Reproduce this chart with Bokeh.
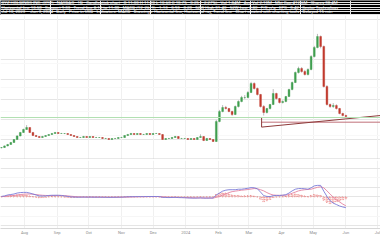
from datetime import datetime
import pandas as pd
from bokeh.plotting import figure
from bokeh.layouts import column
from bokeh.models import (Range1d, FixedTicker, Grid, Span, ColumnDataSource,
                          DatetimeTickFormatter)
from bokeh.core.properties import value
from bokeh.embed import file_html
from bokeh.resources import INLINE

# ---------------- data ----------------
dates = pd.date_range("2023-07-10", periods=110, freq="3D")

opens = [
    2.90, 3.00, 3.40, 3.75, 4.25, 5.00, 5.90, 6.75, 7.50, 8.00,
    6.75, 6.00, 5.75, 5.50, 5.75, 6.00, 6.25, 6.50, 6.75, 6.50,
    6.50, 6.50, 6.25, 6.00, 5.75, 5.50, 5.50, 5.75, 5.50, 5.75,
    5.50, 5.50, 5.50, 5.25, 5.25, 5.00, 5.25, 5.25, 5.50, 5.50,
    6.00, 6.25, 6.50, 6.25, 6.50, 6.25, 6.25, 6.50, 6.25, 6.50,
    6.50, 6.25, 5.00, 5.25, 5.25, 5.50, 5.75, 5.25, 5.25, 5.25,
    5.00, 5.25, 5.00, 5.50, 5.75, 4.75, 5.25, 5.00, 4.50, 9.50,
    12.00, 13.00, 12.75, 12.00, 11.25, 13.25, 14.50, 15.50, 15.50, 16.75,
    19.00, 17.75, 16.25, 13.25, 11.75, 12.75, 13.75, 16.50, 15.25, 14.25,
    14.50, 15.75, 17.50, 19.25, 21.75, 22.75, 22.00, 21.25, 22.50, 25.75,
    28.00, 30.75, 28.25, 18.25, 13.75, 13.25, 13.50, 12.75, 11.50, 11.00,
]
closes = [
    3.00, 3.40, 3.75, 4.25, 5.00, 5.90, 6.75, 7.50, 8.00, 6.75,
    6.00, 5.75, 5.50, 5.75, 6.00, 6.25, 6.50, 6.75, 6.50, 6.50,
    6.50, 6.25, 6.00, 5.75, 5.50, 5.50, 5.75, 5.50, 5.75, 5.50,
    5.50, 5.50, 5.25, 5.25, 5.00, 5.25, 5.25, 5.50, 5.50, 6.00,
    6.25, 6.50, 6.25, 6.50, 6.25, 6.25, 6.50, 6.25, 6.50, 6.50,
    6.25, 5.00, 5.25, 5.25, 5.50, 5.75, 5.25, 5.25, 5.25, 5.00,
    5.25, 5.00, 5.50, 5.75, 4.75, 5.25, 5.00, 4.50, 9.50, 12.00,
    13.00, 12.75, 12.00, 11.25, 13.25, 14.50, 15.50, 15.50, 16.75, 19.00,
    17.75, 16.25, 13.25, 11.75, 12.75, 13.75, 16.50, 15.25, 14.25, 14.50,
    15.75, 17.50, 19.25, 21.75, 22.75, 22.00, 21.25, 22.50, 25.75, 28.00,
    30.75, 28.25, 18.25, 13.75, 13.25, 13.50, 12.75, 11.50, 11.00, 10.75,
]
highs = [
    3.10, 3.50, 3.90, 4.40, 5.10, 6.05, 6.90, 7.70, 8.60, 8.10,
    6.90, 6.15, 5.85, 5.90, 6.10, 6.35, 6.65, 6.90, 6.85, 6.65,
    6.60, 6.60, 6.35, 6.10, 5.85, 5.65, 5.90, 5.85, 5.85, 5.85,
    5.65, 5.60, 5.60, 5.40, 5.35, 5.35, 5.40, 5.60, 5.65, 6.10,
    6.40, 6.65, 6.60, 6.60, 6.60, 6.40, 6.60, 6.60, 6.60, 6.65,
    6.60, 6.35, 5.35, 5.40, 5.65, 5.90, 5.85, 5.40, 5.40, 5.35,
    5.35, 5.35, 5.60, 6.30, 5.85, 5.40, 5.35, 5.10, 9.90, 12.40,
    13.60, 13.40, 12.90, 12.20, 13.50, 14.80, 15.90, 16.10, 17.10, 19.40,
    19.30, 18.00, 16.40, 13.60, 12.90, 13.90, 17.60, 16.70, 15.40, 14.80,
    15.90, 17.70, 19.50, 22.00, 23.20, 23.10, 22.40, 22.80, 26.10, 28.40,
    31.40, 31.00, 28.50, 18.60, 14.00, 14.10, 13.80, 12.90, 11.70, 11.20,
]
lows = [
    2.80, 2.90, 3.30, 3.70, 4.15, 4.90, 5.80, 6.65, 7.40, 6.60,
    5.85, 5.65, 5.40, 5.40, 5.65, 5.90, 6.15, 6.40, 6.40, 6.40,
    6.35, 6.15, 5.90, 5.65, 5.40, 5.40, 5.40, 5.40, 5.40, 5.40,
    5.40, 5.40, 5.15, 5.15, 4.90, 4.90, 5.10, 5.15, 5.40, 5.40,
    5.90, 6.15, 6.15, 6.15, 6.15, 6.15, 6.15, 6.15, 6.15, 6.40,
    6.15, 4.90, 4.90, 5.10, 5.15, 5.40, 5.15, 5.15, 5.15, 4.90,
    4.90, 4.90, 4.90, 5.40, 4.60, 4.65, 4.90, 4.40, 4.40, 9.30,
    11.80, 12.50, 11.80, 10.90, 11.10, 13.00, 14.30, 15.10, 15.30, 16.60,
    17.50, 16.00, 13.00, 11.00, 11.50, 12.50, 13.60, 15.00, 14.00, 14.00,
    14.30, 15.60, 17.30, 19.10, 21.50, 21.70, 21.00, 21.00, 22.30, 25.50,
    27.80, 27.80, 18.00, 13.50, 12.90, 12.90, 12.50, 11.30, 10.80, 10.60,
]
macd = [
    0.05, 0.10, 0.20, 0.25, 0.30, 0.40, 0.45, 0.47, 0.47, 0.40,
    0.30, 0.20, 0.10, 0.10, 0.10, 0.15, 0.17, 0.17, 0.17, 0.15,
    0.10, 0.05, 0.00, -0.02, -0.03, -0.03, -0.02, -0.03, -0.02, -0.03,
    -0.03, -0.03, -0.04, -0.04, -0.05, -0.04, -0.04, -0.03, -0.03, -0.01,
    0.01, 0.02, 0.02, 0.03, 0.03, 0.03, 0.04, 0.04, 0.04, 0.04,
    0.03, -0.05, -0.06, -0.07, -0.06, -0.05, -0.07, -0.08, -0.09, -0.11,
    -0.12, -0.13, -0.12, -0.10, -0.13, -0.13, -0.12, -0.12, 0.20, 0.40,
    0.60, 0.70, 0.75, 0.75, 0.75, 0.80, 0.80, 0.85, 0.90, 0.97,
    0.95, 0.85, 0.50, 0.13, 0.05, 0.03, 0.13, 0.15, 0.15, 0.18,
    0.23, 0.40, 0.63, 0.80, 0.87, 0.87, 0.85, 0.80, 0.95, 1.15,
    1.20, 1.20, 0.60, 0.05, -0.40, -0.65, -0.80, -0.95, -1.05, -1.13,
]
signal = [
    0.02, 0.05, 0.10, 0.12, 0.15, 0.20, 0.25, 0.28, 0.30, 0.30,
    0.28, 0.24, 0.20, 0.17, 0.15, 0.14, 0.14, 0.15, 0.15, 0.15,
    0.13, 0.10, 0.07, 0.04, 0.01, -0.01, -0.02, -0.02, -0.02, -0.02,
    -0.03, -0.03, -0.03, -0.04, -0.04, -0.04, -0.04, -0.04, -0.03, -0.03,
    -0.02, -0.01, 0.00, 0.01, 0.02, 0.02, 0.03, 0.03, 0.03, 0.04,
    0.04, 0.01, -0.01, -0.03, -0.04, -0.04, -0.05, -0.06, -0.07, -0.08,
    -0.09, -0.10, -0.11, -0.11, -0.11, -0.12, -0.12, -0.12, -0.05, 0.05,
    0.20, 0.30, 0.45, 0.55, 0.60, 0.65, 0.70, 0.73, 0.77, 0.82,
    0.87, 0.85, 0.75, 0.63, 0.45, 0.30, 0.20, 0.17, 0.16, 0.16,
    0.18, 0.25, 0.38, 0.50, 0.63, 0.70, 0.75, 0.78, 0.80, 0.90,
    1.00, 1.05, 0.95, 0.63, 0.30, -0.03, -0.30, -0.53, -0.75, -0.93,
]

hline_level = 10.50            # light green horizontal line
support_start = "2024-03-13"   # dark red horizontal / trend line start
support_level = 9.33
trend_start = 8.10
trend_end = 11.00
trend_top = 10.50

tick_dates = ["2023-08-01", "2023-09-01", "2023-10-01", "2023-11-01", "2023-12-01",
              "2024-01-01", "2024-02-01", "2024-03-01", "2024-04-01", "2024-05-01",
              "2024-06-01", "2024-07-01"]
tick_labels = ["Aug", "Sep", "Oct", "Nov", "Dec", "2024", "Feb", "Mar", "Apr", "May",
               "Jun", "Jul"]

header_lines = [
    "XYZ HOLDINGS INC. (XYZ) · NASDAQ · 1D · Candlestick chart · O 11.00  H 11.20  L 10.60  C 10.75  −0.25 (−2.27%) · Vol 1.84M · Avg Vol 2.10M · Mkt Cap 412.6M · Shares 38.4M",
    "Horizontal line 10.50 · Support 9.33 · Trend line 8.10 to 11.00 · MACD (12, 26, 9) −1.13 −0.93 −0.20 · 52W High 31.40 · 52W Low 2.80 · P/E n/a · EPS −0.42 · Sector Technology",
    "Jul 10, 2023 – Jun 3, 2024 · Daily · Price in USD · Indicators: MACD · Drawings: Horizontal line, Horizontal ray, Trend line · Chart created with charting tools · Delayed 15 min",
]
header_rows = [2, 1, 0]

# ---------------- derived ----------------
inc = [c >= o for o, c in zip(opens, closes)]
col = ["#3f9f4f" if u else "#c23a2e" for u in inc]
src = ColumnDataSource(dict(date=dates, open=opens, close=closes, high=highs, low=lows,
                            top=[max(o, c) for o, c in zip(opens, closes)],
                            bot=[min(o, c) for o, c in zip(opens, closes)],
                            color=col))
hist = [mv - sv for mv, sv in zip(macd, signal)]
msrc = ColumnDataSource(dict(date=dates, macd=macd, signal=signal, hist=hist))

x_range = Range1d(datetime(2023, 7, 9, 5), datetime(2024, 7, 3, 20))
tick_ms = [pd.Timestamp(d).value // 10**6 for d in tick_dates]
xticker = FixedTicker(ticks=tick_ms)
FONT = "Roboto"
W = 380

# ---------------- header ----------------
hdr = figure(width=W, height=15, output_backend="svg", toolbar_location=None,
             x_axis_location=None, y_axis_location=None, min_border=0,
             x_range=Range1d(0, W), y_range=Range1d(-0.3, 2.95),
             background_fill_color="black", border_fill_color="black", outline_line_color=None)
hdr.text(x=[1, 1, 1], y=header_rows, text=header_lines, text_color="white",
         text_font=value(FONT), text_font_size="4.4px", text_baseline="bottom")

# ---------------- price panel ----------------
p = figure(width=W, height=144, output_backend="svg", toolbar_location=None,
           x_axis_location=None, y_axis_location=None, min_border=0,
           x_range=x_range, y_range=Range1d(0, 36), outline_line_color=None,
           background_fill_color="white", border_fill_color="white")
p.add_layout(Grid(dimension=0, ticker=xticker, grid_line_color="#f0f0f0", grid_line_width=1))
p.add_layout(Grid(dimension=1, ticker=FixedTicker(ticks=[6, 12, 18, 24, 30]),
                  grid_line_color="#f8f8f8", grid_line_width=1))
p.add_layout(Span(location=hline_level, dimension="width", line_color="#b2e0b2", line_width=1))
ss = pd.Timestamp(support_start)
p.segment(x0=[ss], y0=[support_level], x1=[x_range.end], y1=[support_level],
          line_color="#c07078", line_width=1)
p.line(x=[ss, ss, x_range.end], y=[trend_top, trend_start, trend_end],
       line_color="#8e3a3a", line_width=1)
p.segment(x0="date", y0="low", x1="date", y1="high", source=src, line_color="#9a9a9a",
          line_width=0.7)
p.vbar(x="date", top="top", bottom="bot", width=1.7 * 86400000, source=src,
       fill_color="color", line_color="color", line_width=0.4)
p.add_layout(Span(location=0.1, dimension="width", line_color="#c8c8c8", line_width=1))

# ---------------- MACD panel ----------------
m = figure(width=W, height=78, output_backend="svg", toolbar_location=None,
           x_axis_location="below", y_axis_location=None, min_border=0, min_border_top=1,
           x_range=x_range, y_range=Range1d(-3.3, 3.8), outline_line_color=None,
           background_fill_color="white", border_fill_color="white")
m.xgrid.grid_line_color = "#f0f0f0"
m.xaxis.ticker = xticker
m.xaxis.formatter = DatetimeTickFormatter(months="%b", years="%Y", days="%b")
m.xaxis.major_label_overrides = {ms: lab for ms, lab in zip(tick_ms, tick_labels)}
m.xaxis.axis_line_color = "#d8d8d8"
m.xaxis.major_tick_line_color = None
m.xaxis.minor_tick_line_color = None
m.xaxis.major_tick_out = 0
m.xaxis.major_tick_in = 0
m.xaxis.major_label_standoff = 1
m.xaxis.major_label_text_font_size = "4px"
m.xaxis.major_label_text_color = "#8a8a8a"
m.xaxis.major_label_text_font = FONT
m.add_layout(Grid(dimension=1, ticker=FixedTicker(ticks=[-2, 2]),
                  grid_line_color="#f6f6f6", grid_line_width=1))
m.vbar(x="date", top="hist", bottom=0, width=1.7 * 86400000, source=msrc,
       fill_color="#f6b3b3", fill_alpha=0.5, line_color="#e66a6a", line_width=0.7,
       line_dash="1 1")
m.line(x="date", y="signal", source=msrc, line_color="#e482a0", line_width=0.9)
m.line(x="date", y="macd", source=msrc, line_color="#7a7ad8", line_width=0.9)

# ---------------- footer ----------------
ftr = figure(width=W, height=3, output_backend="svg", toolbar_location=None,
             x_axis_location=None, y_axis_location=None, min_border=0,
             x_range=Range1d(0, 1), y_range=Range1d(0, 1),
             background_fill_color="black", border_fill_color="black", outline_line_color=None)

layout = column(hdr, p, m, ftr, spacing=0)
open("out.html", "w").write(file_html(layout, INLINE))
